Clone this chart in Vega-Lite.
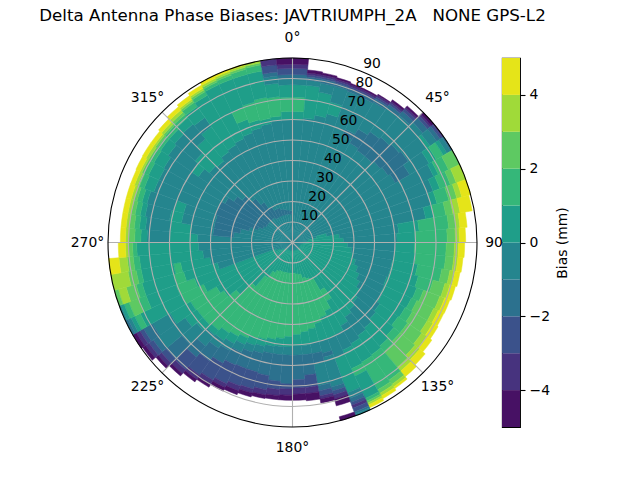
{"$schema":"https://vega.github.io/schema/vega-lite/v6.json","background":"white","padding":{"left":39,"top":7,"right":5,"bottom":5},"bounds":"flush","spacing":25,"config":{"font":"DejaVu Sans","view":{"stroke":null}},
"datasets":{"cells":[
{"a":0,"b":5,"r":0,"s":60,"v":-0.5},{"a":0,"b":5,"r":60,"s":64,"v":0.5},{"a":0,"b":5,"r":64,"s":71,"v":1.5},{"a":0,"b":5,"r":71,"s":77,"v":0.5},{"a":0,"b":5,"r":77,"s":80,"v":-0.5},{"a":0,"b":5,"r":80,"s":82,"v":-1.5},{"a":0,"b":5,"r":82,"s":85,"v":-2.5},{"a":0,"b":5,"r":85,"s":87,"v":-3.5},{"a":0,"b":5,"r":87,"s":90,"v":-4.5},
{"a":5,"b":10,"r":0,"s":61,"v":-0.5},{"a":5,"b":10,"r":61,"s":77,"v":0.5},{"a":5,"b":10,"r":77,"s":79.5,"v":-0.5},{"a":5,"b":10,"r":79.5,"s":81,"v":-1.5},{"a":5,"b":10,"r":81,"s":82,"v":-2.5},{"a":5,"b":10,"r":82,"s":83,"v":-3.5},{"a":5,"b":10,"r":83,"s":84.5,"v":-4.5},
{"a":10,"b":15,"r":0,"s":63,"v":-0.5},{"a":10,"b":15,"r":63,"s":74.5,"v":0.5},{"a":10,"b":15,"r":74.5,"s":79,"v":-0.5},{"a":10,"b":15,"r":79,"s":81,"v":-1.5},{"a":10,"b":15,"r":81,"s":82,"v":-2.5},{"a":10,"b":15,"r":82,"s":83,"v":-3.5},{"a":10,"b":15,"r":83,"s":84,"v":-4.5},
{"a":15,"b":20,"r":0,"s":65,"v":-0.5},{"a":15,"b":20,"r":65,"s":71,"v":0.5},{"a":15,"b":20,"r":71,"s":79,"v":-0.5},{"a":15,"b":20,"r":79,"s":80.5,"v":-1.5},{"a":15,"b":20,"r":80.5,"s":81.5,"v":-2.5},{"a":15,"b":20,"r":81.5,"s":82.5,"v":-3.5},{"a":15,"b":20,"r":82.5,"s":83.3,"v":-4.5},
{"a":20,"b":25,"r":0,"s":78.5,"v":-0.5},{"a":20,"b":25,"r":78.5,"s":80,"v":-1.5},{"a":20,"b":25,"r":80,"s":81,"v":-2.5},{"a":20,"b":25,"r":81,"s":82,"v":-3.5},{"a":20,"b":25,"r":82,"s":82.7,"v":-4.5},
{"a":25,"b":30,"r":0,"s":58,"v":-0.5},{"a":25,"b":30,"r":58,"s":61,"v":-1.5},{"a":25,"b":30,"r":61,"s":78.5,"v":-0.5},{"a":25,"b":30,"r":78.5,"s":80,"v":-1.5},{"a":25,"b":30,"r":80,"s":81,"v":-2.5},{"a":25,"b":30,"r":81,"s":82,"v":-3.5},{"a":25,"b":30,"r":82,"s":82.7,"v":-4.5},
{"a":30,"b":35,"r":0,"s":56,"v":-0.5},{"a":30,"b":35,"r":56,"s":64,"v":-1.5},{"a":30,"b":35,"r":64,"s":79,"v":-0.5},{"a":30,"b":35,"r":79,"s":81,"v":-1.5},{"a":30,"b":35,"r":81,"s":82,"v":-2.5},{"a":30,"b":35,"r":82,"s":83,"v":-3.5},{"a":30,"b":35,"r":83,"s":83.5,"v":-4.5},
{"a":35,"b":40,"r":0,"s":55,"v":-0.5},{"a":35,"b":40,"r":55,"s":66,"v":-1.5},{"a":35,"b":40,"r":66,"s":80,"v":-0.5},{"a":35,"b":40,"r":80,"s":82,"v":-1.5},{"a":35,"b":40,"r":82,"s":83,"v":-2.5},{"a":35,"b":40,"r":83,"s":84,"v":-3.5},{"a":35,"b":40,"r":84,"s":85,"v":-4.5},
{"a":40,"b":45,"r":0,"s":55,"v":-0.5},{"a":40,"b":45,"r":55,"s":67,"v":-1.5},{"a":40,"b":45,"r":67,"s":81,"v":-0.5},{"a":40,"b":45,"r":81,"s":83.5,"v":-1.5},{"a":40,"b":45,"r":83.5,"s":85,"v":-2.5},{"a":40,"b":45,"r":85,"s":86,"v":-3.5},{"a":40,"b":45,"r":86,"s":87,"v":-4.5},
{"a":45,"b":50,"r":0,"s":56,"v":-0.5},{"a":45,"b":50,"r":56,"s":68,"v":-1.5},{"a":45,"b":50,"r":68,"s":83,"v":-0.5},{"a":45,"b":50,"r":83,"s":86,"v":-1.5},{"a":45,"b":50,"r":86,"s":87.5,"v":-2.5},{"a":45,"b":50,"r":87.5,"s":88.5,"v":-3.5},{"a":45,"b":50,"r":88.5,"s":90,"v":-4.5},
{"a":50,"b":55,"r":0,"s":57,"v":-0.5},{"a":50,"b":55,"r":57,"s":69,"v":-1.5},{"a":50,"b":55,"r":69,"s":80,"v":-0.5},{"a":50,"b":55,"r":80,"s":82,"v":0.5},{"a":50,"b":55,"r":82,"s":86,"v":-0.5},{"a":50,"b":55,"r":86,"s":88,"v":-1.5},{"a":50,"b":55,"r":88,"s":89.3,"v":-2.5},{"a":50,"b":55,"r":89.3,"s":90,"v":-3.5},
{"a":55,"b":60,"r":0,"s":58,"v":-0.5},{"a":55,"b":60,"r":58,"s":66,"v":-1.5},{"a":55,"b":60,"r":66,"s":77,"v":-0.5},{"a":55,"b":60,"r":77,"s":81,"v":0.5},{"a":55,"b":60,"r":81,"s":85,"v":1.5},{"a":55,"b":60,"r":85,"s":87,"v":0.5},{"a":55,"b":60,"r":87,"s":89,"v":-0.5},{"a":55,"b":60,"r":89,"s":90,"v":-1.5},
{"a":60,"b":65,"r":0,"s":76,"v":-0.5},{"a":60,"b":65,"r":76,"s":78.5,"v":0.5},{"a":60,"b":65,"r":78.5,"s":84,"v":1.5},{"a":60,"b":65,"r":84,"s":90,"v":2.5},
{"a":65,"b":70,"r":0,"s":73,"v":-0.5},{"a":65,"b":70,"r":73,"s":76.5,"v":0.5},{"a":65,"b":70,"r":76.5,"s":82,"v":1.5},{"a":65,"b":70,"r":82,"s":85,"v":2.5},{"a":65,"b":70,"r":85,"s":90,"v":3.5},
{"a":70,"b":75,"r":0,"s":70,"v":-0.5},{"a":70,"b":75,"r":70,"s":73,"v":0.5},{"a":70,"b":75,"r":73,"s":79,"v":1.5},{"a":70,"b":75,"r":79,"s":83,"v":2.5},{"a":70,"b":75,"r":83,"s":85.5,"v":3.5},{"a":70,"b":75,"r":85.5,"s":90,"v":4.5},
{"a":75,"b":80,"r":0,"s":12,"v":-0.5},{"a":75,"b":80,"r":12,"s":17,"v":0.5},{"a":75,"b":80,"r":17,"s":66,"v":-0.5},{"a":75,"b":80,"r":66,"s":70,"v":0.5},{"a":75,"b":80,"r":70,"s":76,"v":1.5},{"a":75,"b":80,"r":76,"s":79.5,"v":2.5},{"a":75,"b":80,"r":79.5,"s":83,"v":3.5},{"a":75,"b":80,"r":83,"s":89,"v":4.5},
{"a":80,"b":85,"r":0,"s":8,"v":-0.5},{"a":80,"b":85,"r":8,"s":23,"v":0.5},{"a":80,"b":85,"r":23,"s":52,"v":-0.5},{"a":80,"b":85,"r":52,"s":62,"v":0.5},{"a":80,"b":85,"r":62,"s":76.5,"v":1.5},{"a":80,"b":85,"r":76.5,"s":80,"v":2.5},{"a":80,"b":85,"r":80,"s":82,"v":3.5},{"a":80,"b":85,"r":82,"s":85.5,"v":4.5},
{"a":85,"b":90,"r":0,"s":7,"v":-0.5},{"a":85,"b":90,"r":7,"s":25,"v":0.5},{"a":85,"b":90,"r":25,"s":51,"v":-0.5},{"a":85,"b":90,"r":51,"s":60,"v":0.5},{"a":85,"b":90,"r":60,"s":75.5,"v":1.5},{"a":85,"b":90,"r":75.5,"s":79.5,"v":2.5},{"a":85,"b":90,"r":79.5,"s":81.5,"v":3.5},{"a":85,"b":90,"r":81.5,"s":84.5,"v":4.5},
{"a":90,"b":95,"r":0,"s":6,"v":-0.5},{"a":90,"b":95,"r":6,"s":27,"v":0.5},{"a":90,"b":95,"r":27,"s":50.5,"v":-0.5},{"a":90,"b":95,"r":50.5,"s":59.5,"v":0.5},{"a":90,"b":95,"r":59.5,"s":75,"v":1.5},{"a":90,"b":95,"r":75,"s":79,"v":2.5},{"a":90,"b":95,"r":79,"s":81,"v":3.5},{"a":90,"b":95,"r":81,"s":84,"v":4.5},
{"a":95,"b":100,"r":0,"s":5,"v":-0.5},{"a":95,"b":100,"r":5,"s":29,"v":0.5},{"a":95,"b":100,"r":29,"s":50,"v":-0.5},{"a":95,"b":100,"r":50,"s":60.5,"v":0.5},{"a":95,"b":100,"r":60.5,"s":75,"v":1.5},{"a":95,"b":100,"r":75,"s":79,"v":2.5},{"a":95,"b":100,"r":79,"s":81,"v":3.5},{"a":95,"b":100,"r":81,"s":83.5,"v":4.5},
{"a":100,"b":105,"r":0,"s":4.5,"v":-0.5},{"a":100,"b":105,"r":4.5,"s":30,"v":0.5},{"a":100,"b":105,"r":30,"s":49.5,"v":-0.5},{"a":100,"b":105,"r":49.5,"s":62,"v":0.5},{"a":100,"b":105,"r":62,"s":74,"v":1.5},{"a":100,"b":105,"r":74,"s":78,"v":2.5},{"a":100,"b":105,"r":78,"s":80.5,"v":3.5},{"a":100,"b":105,"r":80.5,"s":83,"v":4.5},
{"a":105,"b":110,"r":0,"s":4,"v":-0.5},{"a":105,"b":110,"r":4,"s":32,"v":0.5},{"a":105,"b":110,"r":32,"s":49.5,"v":-0.5},{"a":105,"b":110,"r":49.5,"s":63.5,"v":0.5},{"a":105,"b":110,"r":63.5,"s":71,"v":1.5},{"a":105,"b":110,"r":71,"s":77,"v":2.5},{"a":105,"b":110,"r":77,"s":79.5,"v":3.5},{"a":105,"b":110,"r":79.5,"s":82.3,"v":4.5},
{"a":110,"b":115,"r":0,"s":4,"v":-0.5},{"a":110,"b":115,"r":4,"s":34,"v":0.5},{"a":110,"b":115,"r":34,"s":49,"v":-0.5},{"a":110,"b":115,"r":49,"s":64.5,"v":0.5},{"a":110,"b":115,"r":64.5,"s":68,"v":1.5},{"a":110,"b":115,"r":68,"s":76.5,"v":2.5},{"a":110,"b":115,"r":76.5,"s":79,"v":3.5},{"a":110,"b":115,"r":79,"s":81.7,"v":4.5},
{"a":115,"b":120,"r":0,"s":4,"v":-0.5},{"a":115,"b":120,"r":4,"s":36,"v":0.5},{"a":115,"b":120,"r":36,"s":49.5,"v":-0.5},{"a":115,"b":120,"r":49.5,"s":64,"v":0.5},{"a":115,"b":120,"r":64,"s":67,"v":1.5},{"a":115,"b":120,"r":67,"s":76,"v":2.5},{"a":115,"b":120,"r":76,"s":78.5,"v":3.5},{"a":115,"b":120,"r":78.5,"s":81.5,"v":4.5},
{"a":120,"b":125,"r":0,"s":4,"v":-0.5},{"a":120,"b":125,"r":4,"s":38,"v":0.5},{"a":120,"b":125,"r":38,"s":50.5,"v":-0.5},{"a":120,"b":125,"r":50.5,"s":63.5,"v":0.5},{"a":120,"b":125,"r":63.5,"s":67.5,"v":1.5},{"a":120,"b":125,"r":67.5,"s":76,"v":2.5},{"a":120,"b":125,"r":76,"s":79,"v":3.5},{"a":120,"b":125,"r":79,"s":82,"v":4.5},
{"a":125,"b":130,"r":0,"s":4,"v":-0.5},{"a":125,"b":130,"r":4,"s":40,"v":0.5},{"a":125,"b":130,"r":40,"s":52,"v":-0.5},{"a":125,"b":130,"r":52,"s":63,"v":0.5},{"a":125,"b":130,"r":63,"s":68.5,"v":1.5},{"a":125,"b":130,"r":68.5,"s":77,"v":2.5},{"a":125,"b":130,"r":77,"s":80,"v":3.5},{"a":125,"b":130,"r":80,"s":83,"v":4.5},
{"a":130,"b":135,"r":0,"s":4,"v":-0.5},{"a":130,"b":135,"r":4,"s":41.5,"v":0.5},{"a":130,"b":135,"r":41.5,"s":53,"v":-0.5},{"a":130,"b":135,"r":53,"s":64.5,"v":0.5},{"a":130,"b":135,"r":64.5,"s":68.5,"v":1.5},{"a":130,"b":135,"r":68.5,"s":78,"v":2.5},{"a":130,"b":135,"r":78,"s":81,"v":3.5},{"a":130,"b":135,"r":81,"s":84.5,"v":4.5},
{"a":135,"b":140,"r":0,"s":4,"v":-0.5},{"a":135,"b":140,"r":4,"s":43,"v":0.5},{"a":135,"b":140,"r":43,"s":54.5,"v":-0.5},{"a":135,"b":140,"r":54.5,"s":66,"v":0.5},{"a":135,"b":140,"r":66,"s":69.5,"v":1.5},{"a":135,"b":140,"r":69.5,"s":79.5,"v":2.5},{"a":135,"b":140,"r":79.5,"s":82,"v":3.5},{"a":135,"b":140,"r":82,"s":85.5,"v":4.5},
{"a":140,"b":145,"r":0,"s":4,"v":-0.5},{"a":140,"b":145,"r":4,"s":44.5,"v":0.5},{"a":140,"b":145,"r":44.5,"s":55.5,"v":-0.5},{"a":140,"b":145,"r":55.5,"s":67,"v":0.5},{"a":140,"b":145,"r":67,"s":82,"v":1.5},{"a":140,"b":145,"r":82,"s":84.5,"v":2.5},{"a":140,"b":145,"r":84.5,"s":86,"v":3.5},{"a":140,"b":145,"r":86,"s":87,"v":4.5},
{"a":145,"b":150,"r":0,"s":4,"v":-0.5},{"a":145,"b":150,"r":4,"s":27,"v":0.5},{"a":145,"b":150,"r":27,"s":33,"v":1.5},{"a":145,"b":150,"r":33,"s":47,"v":0.5},{"a":145,"b":150,"r":47,"s":57,"v":-0.5},{"a":145,"b":150,"r":57,"s":67.5,"v":0.5},{"a":145,"b":150,"r":67.5,"s":83,"v":1.5},{"a":145,"b":150,"r":83,"s":85,"v":2.5},{"a":145,"b":150,"r":85,"s":86.5,"v":3.5},{"a":145,"b":150,"r":86.5,"s":88,"v":4.5},
{"a":150,"b":155,"r":0,"s":4,"v":-0.5},{"a":150,"b":155,"r":4,"s":20,"v":0.5},{"a":150,"b":155,"r":20,"s":37,"v":1.5},{"a":150,"b":155,"r":37,"s":49.5,"v":0.5},{"a":150,"b":155,"r":49.5,"s":58,"v":-0.5},{"a":150,"b":155,"r":58,"s":68,"v":0.5},{"a":150,"b":155,"r":68,"s":72,"v":1.5},{"a":150,"b":155,"r":72,"s":84,"v":0.5},{"a":150,"b":155,"r":84,"s":85.5,"v":1.5},{"a":150,"b":155,"r":85.5,"s":86.5,"v":2.5},{"a":150,"b":155,"r":86.5,"s":87.5,"v":3.5},{"a":150,"b":155,"r":87.5,"s":89,"v":4.5},
{"a":155,"b":160,"r":0,"s":4,"v":-0.5},{"a":155,"b":160,"r":4,"s":19,"v":0.5},{"a":155,"b":160,"r":19,"s":39,"v":1.5},{"a":155,"b":160,"r":39,"s":50,"v":0.5},{"a":155,"b":160,"r":50,"s":60,"v":-0.5},{"a":155,"b":160,"r":60,"s":78,"v":0.5},{"a":155,"b":160,"r":78,"s":81,"v":-0.5},{"a":155,"b":160,"r":81,"s":83,"v":-1.5},{"a":155,"b":160,"r":83,"s":84.5,"v":-2.5},{"a":155,"b":160,"r":84.5,"s":86,"v":-3.5},{"a":155,"b":160,"r":86,"s":88,"v":-2.5},{"a":155,"b":160,"r":88,"s":89,"v":-1.5},{"a":155,"b":160,"r":89,"s":90,"v":-0.5},
{"a":160,"b":165,"r":0,"s":4,"v":-0.5},{"a":160,"b":165,"r":4,"s":18,"v":0.5},{"a":160,"b":165,"r":18,"s":41,"v":1.5},{"a":160,"b":165,"r":41,"s":50,"v":0.5},{"a":160,"b":165,"r":50,"s":56,"v":-0.5},{"a":160,"b":165,"r":56,"s":58,"v":-1.5},{"a":160,"b":165,"r":58,"s":73,"v":-0.5},{"a":160,"b":165,"r":73,"s":75,"v":-1.5},{"a":160,"b":165,"r":75,"s":77,"v":-2.5},{"a":160,"b":165,"r":77,"s":79,"v":-3.5},{"a":160,"b":165,"r":79,"s":82.5,"v":-4.5},{"a":160,"b":165,"r":88,"s":90,"v":-4.5},
{"a":165,"b":170,"r":0,"s":4,"v":-0.5},{"a":165,"b":170,"r":4,"s":16,"v":0.5},{"a":165,"b":170,"r":16,"s":43,"v":1.5},{"a":165,"b":170,"r":43,"s":50,"v":0.5},{"a":165,"b":170,"r":50,"s":55,"v":-0.5},{"a":165,"b":170,"r":55,"s":60,"v":-1.5},{"a":165,"b":170,"r":60,"s":71,"v":-0.5},{"a":165,"b":170,"r":71,"s":73.5,"v":-1.5},{"a":165,"b":170,"r":73.5,"s":76,"v":-2.5},{"a":165,"b":170,"r":76,"s":77.5,"v":-3.5},{"a":165,"b":170,"r":77.5,"s":79.5,"v":-4.5},
{"a":170,"b":175,"r":0,"s":4,"v":-0.5},{"a":170,"b":175,"r":4,"s":15.5,"v":0.5},{"a":170,"b":175,"r":15.5,"s":44,"v":1.5},{"a":170,"b":175,"r":44,"s":50.5,"v":0.5},{"a":170,"b":175,"r":50.5,"s":55,"v":-0.5},{"a":170,"b":175,"r":55,"s":65,"v":-1.5},{"a":170,"b":175,"r":65,"s":71,"v":-2.5},{"a":170,"b":175,"r":71,"s":74,"v":-3.5},{"a":170,"b":175,"r":74,"s":77.5,"v":-4.5},
{"a":175,"b":180,"r":0,"s":4,"v":-0.5},{"a":175,"b":180,"r":4,"s":15,"v":0.5},{"a":175,"b":180,"r":15,"s":45,"v":1.5},{"a":175,"b":180,"r":45,"s":50.5,"v":0.5},{"a":175,"b":180,"r":50.5,"s":55,"v":-0.5},{"a":175,"b":180,"r":55,"s":67,"v":-1.5},{"a":175,"b":180,"r":67,"s":71,"v":-2.5},{"a":175,"b":180,"r":71,"s":74,"v":-3.5},{"a":175,"b":180,"r":74,"s":77,"v":-4.5},
{"a":180,"b":185,"r":0,"s":4,"v":-0.5},{"a":180,"b":185,"r":4,"s":15,"v":0.5},{"a":180,"b":185,"r":15,"s":46,"v":1.5},{"a":180,"b":185,"r":46,"s":51,"v":0.5},{"a":180,"b":185,"r":51,"s":55,"v":-0.5},{"a":180,"b":185,"r":55,"s":69,"v":-1.5},{"a":180,"b":185,"r":69,"s":71.5,"v":-2.5},{"a":180,"b":185,"r":71.5,"s":74.5,"v":-3.5},{"a":180,"b":185,"r":74.5,"s":77,"v":-4.5},
{"a":185,"b":190,"r":0,"s":4,"v":-0.5},{"a":185,"b":190,"r":4,"s":15,"v":0.5},{"a":185,"b":190,"r":15,"s":47,"v":1.5},{"a":185,"b":190,"r":47,"s":51,"v":0.5},{"a":185,"b":190,"r":51,"s":55,"v":-0.5},{"a":185,"b":190,"r":55,"s":68,"v":-1.5},{"a":185,"b":190,"r":68,"s":72,"v":-2.5},{"a":185,"b":190,"r":72,"s":75,"v":-3.5},{"a":185,"b":190,"r":75,"s":77,"v":-4.5},
{"a":190,"b":195,"r":0,"s":4,"v":-0.5},{"a":190,"b":195,"r":4,"s":15,"v":0.5},{"a":190,"b":195,"r":15,"s":48,"v":1.5},{"a":190,"b":195,"r":48,"s":51.5,"v":0.5},{"a":190,"b":195,"r":51.5,"s":55,"v":-0.5},{"a":190,"b":195,"r":55,"s":66,"v":-1.5},{"a":190,"b":195,"r":66,"s":73,"v":-2.5},{"a":190,"b":195,"r":73,"s":75.5,"v":-3.5},{"a":190,"b":195,"r":75.5,"s":77.3,"v":-4.5},
{"a":195,"b":200,"r":0,"s":4,"v":-0.5},{"a":195,"b":200,"r":4,"s":15,"v":0.5},{"a":195,"b":200,"r":15,"s":49,"v":1.5},{"a":195,"b":200,"r":49,"s":52.5,"v":0.5},{"a":195,"b":200,"r":52.5,"s":56,"v":-0.5},{"a":195,"b":200,"r":56,"s":65.5,"v":-1.5},{"a":195,"b":200,"r":65.5,"s":74,"v":-2.5},{"a":195,"b":200,"r":74,"s":76,"v":-3.5},{"a":195,"b":200,"r":76,"s":78,"v":-4.5},
{"a":200,"b":205,"r":0,"s":4,"v":-0.5},{"a":200,"b":205,"r":4,"s":15,"v":0.5},{"a":200,"b":205,"r":15,"s":50,"v":1.5},{"a":200,"b":205,"r":50,"s":53.5,"v":0.5},{"a":200,"b":205,"r":53.5,"s":57,"v":-0.5},{"a":200,"b":205,"r":57,"s":65.5,"v":-1.5},{"a":200,"b":205,"r":65.5,"s":74.5,"v":-2.5},{"a":200,"b":205,"r":74.5,"s":77,"v":-3.5},{"a":200,"b":205,"r":77,"s":79,"v":-4.5},
{"a":205,"b":210,"r":0,"s":4,"v":-0.5},{"a":205,"b":210,"r":4,"s":15.5,"v":0.5},{"a":205,"b":210,"r":15.5,"s":51.5,"v":1.5},{"a":205,"b":210,"r":51.5,"s":55,"v":0.5},{"a":205,"b":210,"r":55,"s":59,"v":-0.5},{"a":205,"b":210,"r":59,"s":66,"v":-1.5},{"a":205,"b":210,"r":66,"s":76,"v":-2.5},{"a":205,"b":210,"r":76,"s":78,"v":-3.5},{"a":205,"b":210,"r":78,"s":80,"v":-4.5},
{"a":210,"b":215,"r":0,"s":4,"v":-0.5},{"a":210,"b":215,"r":4,"s":17,"v":0.5},{"a":210,"b":215,"r":17,"s":53,"v":1.5},{"a":210,"b":215,"r":53,"s":57,"v":0.5},{"a":210,"b":215,"r":57,"s":61,"v":-0.5},{"a":210,"b":215,"r":61,"s":68,"v":-1.5},{"a":210,"b":215,"r":68,"s":77.5,"v":-2.5},{"a":210,"b":215,"r":77.5,"s":80,"v":-3.5},{"a":210,"b":215,"r":80,"s":81.5,"v":-4.5},
{"a":215,"b":220,"r":0,"s":4,"v":-0.5},{"a":215,"b":220,"r":4,"s":21,"v":0.5},{"a":215,"b":220,"r":21,"s":54,"v":1.5},{"a":215,"b":220,"r":54,"s":58.5,"v":0.5},{"a":215,"b":220,"r":58.5,"s":63,"v":-0.5},{"a":215,"b":220,"r":63,"s":70.5,"v":-1.5},{"a":215,"b":220,"r":70.5,"s":79,"v":-2.5},{"a":215,"b":220,"r":79,"s":81.5,"v":-3.5},{"a":215,"b":220,"r":81.5,"s":83,"v":-4.5},
{"a":220,"b":225,"r":0,"s":4,"v":-0.5},{"a":220,"b":225,"r":4,"s":28,"v":0.5},{"a":220,"b":225,"r":28,"s":56,"v":1.5},{"a":220,"b":225,"r":56,"s":59,"v":0.5},{"a":220,"b":225,"r":59,"s":66,"v":-0.5},{"a":220,"b":225,"r":66,"s":73,"v":-1.5},{"a":220,"b":225,"r":73,"s":81,"v":-2.5},{"a":220,"b":225,"r":81,"s":83.5,"v":-3.5},{"a":220,"b":225,"r":83.5,"s":85,"v":-4.5},
{"a":225,"b":230,"r":0,"s":4,"v":-0.5},{"a":225,"b":230,"r":4,"s":36,"v":0.5},{"a":225,"b":230,"r":36,"s":57,"v":1.5},{"a":225,"b":230,"r":57,"s":61,"v":0.5},{"a":225,"b":230,"r":61,"s":70.5,"v":-0.5},{"a":225,"b":230,"r":70.5,"s":80.5,"v":-1.5},{"a":225,"b":230,"r":80.5,"s":83.5,"v":-2.5},{"a":225,"b":230,"r":83.5,"s":85.5,"v":-3.5},{"a":225,"b":230,"r":85.5,"s":87,"v":-4.5},
{"a":230,"b":235,"r":0,"s":5,"v":-0.5},{"a":230,"b":235,"r":5,"s":41,"v":0.5},{"a":230,"b":235,"r":41,"s":57,"v":1.5},{"a":230,"b":235,"r":57,"s":64,"v":0.5},{"a":230,"b":235,"r":64,"s":80,"v":-0.5},{"a":230,"b":235,"r":80,"s":83,"v":-1.5},{"a":230,"b":235,"r":83,"s":85.5,"v":-2.5},{"a":230,"b":235,"r":85.5,"s":87.5,"v":-3.5},{"a":230,"b":235,"r":87.5,"s":89.3,"v":-4.5},
{"a":235,"b":240,"r":0,"s":6,"v":-0.5},{"a":235,"b":240,"r":6,"s":43,"v":0.5},{"a":235,"b":240,"r":43,"s":57.5,"v":1.5},{"a":235,"b":240,"r":57.5,"s":69,"v":0.5},{"a":235,"b":240,"r":69,"s":79,"v":-0.5},{"a":235,"b":240,"r":79,"s":84,"v":-1.5},{"a":235,"b":240,"r":84,"s":86,"v":-2.5},{"a":235,"b":240,"r":86,"s":88,"v":-3.5},{"a":235,"b":240,"r":88,"s":90,"v":-4.5},
{"a":240,"b":245,"r":0,"s":7,"v":-0.5},{"a":240,"b":245,"r":7,"s":48,"v":0.5},{"a":240,"b":245,"r":48,"s":60,"v":1.5},{"a":240,"b":245,"r":60,"s":82,"v":0.5},{"a":240,"b":245,"r":82,"s":85,"v":1.5},{"a":240,"b":245,"r":85,"s":87,"v":0.5},{"a":240,"b":245,"r":87,"s":88.5,"v":-0.5},{"a":240,"b":245,"r":88.5,"s":90,"v":-1.5},
{"a":245,"b":250,"r":0,"s":9,"v":-0.5},{"a":245,"b":250,"r":9,"s":51,"v":0.5},{"a":245,"b":250,"r":51,"s":60.5,"v":1.5},{"a":245,"b":250,"r":60.5,"s":76,"v":0.5},{"a":245,"b":250,"r":76,"s":80,"v":1.5},{"a":245,"b":250,"r":80,"s":85,"v":2.5},{"a":245,"b":250,"r":85,"s":87.5,"v":1.5},{"a":245,"b":250,"r":87.5,"s":89,"v":0.5},{"a":245,"b":250,"r":89,"s":90,"v":-0.5},
{"a":250,"b":255,"r":0,"s":38,"v":-0.5},{"a":250,"b":255,"r":38,"s":55,"v":0.5},{"a":250,"b":255,"r":55,"s":60,"v":1.5},{"a":250,"b":255,"r":60,"s":76,"v":0.5},{"a":250,"b":255,"r":76,"s":79,"v":1.5},{"a":250,"b":255,"r":79,"s":84,"v":2.5},{"a":250,"b":255,"r":84,"s":88,"v":3.5},{"a":250,"b":255,"r":88,"s":90,"v":2.5},
{"a":255,"b":260,"r":0,"s":41,"v":-0.5},{"a":255,"b":260,"r":41,"s":55.5,"v":0.5},{"a":255,"b":260,"r":55.5,"s":59,"v":1.5},{"a":255,"b":260,"r":59,"s":75,"v":0.5},{"a":255,"b":260,"r":75,"s":77.5,"v":1.5},{"a":255,"b":260,"r":77.5,"s":81.5,"v":2.5},{"a":255,"b":260,"r":81.5,"s":90,"v":3.5},
{"a":260,"b":265,"r":0,"s":44,"v":-0.5},{"a":260,"b":265,"r":44,"s":75,"v":0.5},{"a":260,"b":265,"r":75,"s":78,"v":1.5},{"a":260,"b":265,"r":78,"s":81,"v":2.5},{"a":260,"b":265,"r":81,"s":85,"v":3.5},{"a":260,"b":265,"r":85,"s":90,"v":4.5},
{"a":265,"b":270,"r":0,"s":46,"v":-0.5},{"a":265,"b":270,"r":46,"s":76,"v":0.5},{"a":265,"b":270,"r":76,"s":78,"v":1.5},{"a":265,"b":270,"r":78,"s":80,"v":2.5},{"a":265,"b":270,"r":80,"s":81.5,"v":3.5},{"a":265,"b":270,"r":81.5,"s":85,"v":4.5},
{"a":270,"b":275,"r":0,"s":46.5,"v":-0.5},{"a":270,"b":275,"r":46.5,"s":60,"v":0.5},{"a":270,"b":275,"r":60,"s":71,"v":-0.5},{"a":270,"b":275,"r":71,"s":74,"v":0.5},{"a":270,"b":275,"r":74,"s":77,"v":1.5},{"a":270,"b":275,"r":77,"s":80,"v":2.5},{"a":270,"b":275,"r":80,"s":81.5,"v":3.5},{"a":270,"b":275,"r":81.5,"s":84,"v":4.5},
{"a":275,"b":280,"r":0,"s":29,"v":-0.5},{"a":275,"b":280,"r":29,"s":39,"v":-1.5},{"a":275,"b":280,"r":39,"s":50,"v":-0.5},{"a":275,"b":280,"r":50,"s":60,"v":0.5},{"a":275,"b":280,"r":60,"s":72,"v":-0.5},{"a":275,"b":280,"r":72,"s":75,"v":0.5},{"a":275,"b":280,"r":75,"s":77.5,"v":1.5},{"a":275,"b":280,"r":77.5,"s":80,"v":2.5},{"a":275,"b":280,"r":80,"s":81.5,"v":3.5},{"a":275,"b":280,"r":81.5,"s":84,"v":4.5},
{"a":280,"b":285,"r":0,"s":26,"v":-0.5},{"a":280,"b":285,"r":26,"s":39,"v":-1.5},{"a":280,"b":285,"r":39,"s":55,"v":-0.5},{"a":280,"b":285,"r":55,"s":61,"v":0.5},{"a":280,"b":285,"r":61,"s":73,"v":-0.5},{"a":280,"b":285,"r":73,"s":75.5,"v":0.5},{"a":280,"b":285,"r":75.5,"s":78,"v":1.5},{"a":280,"b":285,"r":78,"s":80,"v":2.5},{"a":280,"b":285,"r":80,"s":81.5,"v":3.5},{"a":280,"b":285,"r":81.5,"s":84,"v":4.5},
{"a":285,"b":290,"r":0,"s":22,"v":-0.5},{"a":285,"b":290,"r":22,"s":39,"v":-1.5},{"a":285,"b":290,"r":39,"s":55,"v":-0.5},{"a":285,"b":290,"r":55,"s":60,"v":0.5},{"a":285,"b":290,"r":60,"s":73.5,"v":-0.5},{"a":285,"b":290,"r":73.5,"s":76,"v":0.5},{"a":285,"b":290,"r":76,"s":78.5,"v":1.5},{"a":285,"b":290,"r":78.5,"s":80,"v":2.5},{"a":285,"b":290,"r":80,"s":81.5,"v":3.5},{"a":285,"b":290,"r":81.5,"s":84,"v":4.5},
{"a":290,"b":295,"r":0,"s":18,"v":-0.5},{"a":290,"b":295,"r":18,"s":40,"v":-1.5},{"a":290,"b":295,"r":40,"s":72,"v":-0.5},{"a":290,"b":295,"r":72,"s":77,"v":0.5},{"a":290,"b":295,"r":77,"s":79.5,"v":1.5},{"a":290,"b":295,"r":79.5,"s":80.5,"v":2.5},{"a":290,"b":295,"r":80.5,"s":82,"v":3.5},{"a":290,"b":295,"r":82,"s":84,"v":4.5},
{"a":295,"b":300,"r":0,"s":16,"v":-0.5},{"a":295,"b":300,"r":16,"s":40,"v":-1.5},{"a":295,"b":300,"r":40,"s":72,"v":-0.5},{"a":295,"b":300,"r":72,"s":77.5,"v":0.5},{"a":295,"b":300,"r":77.5,"s":80,"v":1.5},{"a":295,"b":300,"r":80,"s":81,"v":2.5},{"a":295,"b":300,"r":81,"s":82,"v":3.5},{"a":295,"b":300,"r":82,"s":84.3,"v":4.5},
{"a":300,"b":305,"r":0,"s":15,"v":-0.5},{"a":300,"b":305,"r":15,"s":38,"v":-1.5},{"a":300,"b":305,"r":38,"s":72.5,"v":-0.5},{"a":300,"b":305,"r":72.5,"s":78,"v":0.5},{"a":300,"b":305,"r":78,"s":80,"v":1.5},{"a":300,"b":305,"r":80,"s":81,"v":2.5},{"a":300,"b":305,"r":81,"s":82.5,"v":3.5},{"a":300,"b":305,"r":82.5,"s":84.5,"v":4.5},
{"a":305,"b":310,"r":0,"s":15,"v":-0.5},{"a":305,"b":310,"r":15,"s":35,"v":-1.5},{"a":305,"b":310,"r":35,"s":56,"v":-0.5},{"a":305,"b":310,"r":56,"s":60,"v":0.5},{"a":305,"b":310,"r":60,"s":74,"v":-0.5},{"a":305,"b":310,"r":74,"s":78.5,"v":0.5},{"a":305,"b":310,"r":78.5,"s":80.5,"v":1.5},{"a":305,"b":310,"r":80.5,"s":81.5,"v":2.5},{"a":305,"b":310,"r":81.5,"s":82.5,"v":3.5},{"a":305,"b":310,"r":82.5,"s":84.5,"v":4.5},
{"a":310,"b":315,"r":0,"s":15,"v":-0.5},{"a":310,"b":315,"r":15,"s":32,"v":-1.5},{"a":310,"b":315,"r":32,"s":53,"v":-0.5},{"a":310,"b":315,"r":53,"s":62,"v":0.5},{"a":310,"b":315,"r":62,"s":75,"v":-0.5},{"a":310,"b":315,"r":75,"s":78.5,"v":0.5},{"a":310,"b":315,"r":78.5,"s":81,"v":1.5},{"a":310,"b":315,"r":81,"s":82,"v":2.5},{"a":310,"b":315,"r":82,"s":83.3,"v":3.5},{"a":310,"b":315,"r":83.3,"s":85.3,"v":4.5},
{"a":315,"b":320,"r":0,"s":15,"v":-0.5},{"a":315,"b":320,"r":15,"s":28,"v":-1.5},{"a":315,"b":320,"r":28,"s":52,"v":-0.5},{"a":315,"b":320,"r":52,"s":66,"v":0.5},{"a":315,"b":320,"r":66,"s":75.5,"v":-0.5},{"a":315,"b":320,"r":75.5,"s":79.5,"v":0.5},{"a":315,"b":320,"r":79.5,"s":81.5,"v":1.5},{"a":315,"b":320,"r":81.5,"s":83,"v":2.5},{"a":315,"b":320,"r":83,"s":84.5,"v":3.5},{"a":315,"b":320,"r":84.5,"s":86.5,"v":4.5},
{"a":320,"b":325,"r":0,"s":15,"v":-0.5},{"a":320,"b":325,"r":15,"s":24,"v":-1.5},{"a":320,"b":325,"r":24,"s":54,"v":-0.5},{"a":320,"b":325,"r":54,"s":69,"v":0.5},{"a":320,"b":325,"r":69,"s":74.5,"v":-0.5},{"a":320,"b":325,"r":74.5,"s":81,"v":0.5},{"a":320,"b":325,"r":81,"s":83.5,"v":1.5},{"a":320,"b":325,"r":83.5,"s":84.5,"v":2.5},{"a":320,"b":325,"r":84.5,"s":85.5,"v":3.5},{"a":320,"b":325,"r":85.5,"s":87.5,"v":4.5},
{"a":325,"b":330,"r":0,"s":14,"v":-0.5},{"a":325,"b":330,"r":14,"s":20,"v":-1.5},{"a":325,"b":330,"r":20,"s":55,"v":-0.5},{"a":325,"b":330,"r":55,"s":83,"v":0.5},{"a":325,"b":330,"r":83,"s":85,"v":1.5},{"a":325,"b":330,"r":85,"s":86,"v":2.5},{"a":325,"b":330,"r":86,"s":87,"v":3.5},{"a":325,"b":330,"r":87,"s":88.7,"v":4.5},
{"a":330,"b":335,"r":0,"s":14,"v":-0.5},{"a":330,"b":335,"r":14,"s":18,"v":-1.5},{"a":330,"b":335,"r":18,"s":56,"v":-0.5},{"a":330,"b":335,"r":56,"s":85,"v":0.5},{"a":330,"b":335,"r":85,"s":86.5,"v":1.5},{"a":330,"b":335,"r":86.5,"s":87.5,"v":2.5},{"a":330,"b":335,"r":87.5,"s":88.5,"v":3.5},{"a":330,"b":335,"r":88.5,"s":90,"v":4.5},
{"a":335,"b":340,"r":0,"s":14,"v":-0.5},{"a":335,"b":340,"r":14,"s":18,"v":-1.5},{"a":335,"b":340,"r":18,"s":57,"v":-0.5},{"a":335,"b":340,"r":57,"s":64,"v":0.5},{"a":335,"b":340,"r":64,"s":70,"v":1.5},{"a":335,"b":340,"r":70,"s":85,"v":0.5},{"a":335,"b":340,"r":85,"s":87,"v":1.5},{"a":335,"b":340,"r":87,"s":88,"v":2.5},{"a":335,"b":340,"r":88,"s":89,"v":3.5},{"a":335,"b":340,"r":89,"s":90,"v":4.5},
{"a":340,"b":345,"r":0,"s":14,"v":-0.5},{"a":340,"b":345,"r":14,"s":17,"v":-1.5},{"a":340,"b":345,"r":17,"s":58,"v":-0.5},{"a":340,"b":345,"r":58,"s":62,"v":0.5},{"a":340,"b":345,"r":62,"s":71,"v":1.5},{"a":340,"b":345,"r":71,"s":85,"v":0.5},{"a":340,"b":345,"r":85,"s":87.5,"v":1.5},{"a":340,"b":345,"r":87.5,"s":88.5,"v":2.5},{"a":340,"b":345,"r":88.5,"s":89.5,"v":3.5},{"a":340,"b":345,"r":89.5,"s":90,"v":4.5},
{"a":345,"b":350,"r":0,"s":14,"v":-0.5},{"a":345,"b":350,"r":14,"s":16.5,"v":-1.5},{"a":345,"b":350,"r":16.5,"s":59,"v":-0.5},{"a":345,"b":350,"r":59,"s":61.5,"v":0.5},{"a":345,"b":350,"r":61.5,"s":72,"v":1.5},{"a":345,"b":350,"r":72,"s":85,"v":0.5},{"a":345,"b":350,"r":85,"s":88,"v":1.5},{"a":345,"b":350,"r":88,"s":89,"v":2.5},{"a":345,"b":350,"r":89,"s":90,"v":3.5},
{"a":350,"b":355,"r":0,"s":14,"v":-0.5},{"a":350,"b":355,"r":14,"s":16,"v":-1.5},{"a":350,"b":355,"r":16,"s":60,"v":-0.5},{"a":350,"b":355,"r":60,"s":62,"v":0.5},{"a":350,"b":355,"r":62,"s":71.5,"v":1.5},{"a":350,"b":355,"r":71.5,"s":78,"v":0.5},{"a":350,"b":355,"r":78,"s":81.5,"v":-0.5},{"a":350,"b":355,"r":81.5,"s":83.5,"v":-1.5},{"a":350,"b":355,"r":83.5,"s":87,"v":-2.5},{"a":350,"b":355,"r":87,"s":90,"v":-3.5},
{"a":355,"b":360,"r":0,"s":14,"v":-0.5},{"a":355,"b":360,"r":14,"s":15.5,"v":-1.5},{"a":355,"b":360,"r":15.5,"s":60,"v":-0.5},{"a":355,"b":360,"r":60,"s":64,"v":0.5},{"a":355,"b":360,"r":64,"s":71,"v":1.5},{"a":355,"b":360,"r":71,"s":77,"v":0.5},{"a":355,"b":360,"r":77,"s":80,"v":-0.5},{"a":355,"b":360,"r":80,"s":82,"v":-1.5},{"a":355,"b":360,"r":82,"s":85,"v":-2.5},{"a":355,"b":360,"r":85,"s":87,"v":-3.5},{"a":355,"b":360,"r":87,"s":90,"v":-4.5}
],
"rings":[{"z":10},{"z":20},{"z":30},{"z":40},{"z":50},{"z":60},{"z":70},{"z":80},{"z":90}],
"spokes":[{"t":0,"l":"0°"},{"t":45,"l":"45°"},{"t":90,"l":"90°"},{"t":135,"l":"135°"},{"t":180,"l":"180°"},{"t":225,"l":"225°"},{"t":270,"l":"270°"},{"t":315,"l":"315°"}],
"bar":[{"lo":-5,"hi":-4,"v":-4.5},{"lo":-4,"hi":-3,"v":-3.5},{"lo":-3,"hi":-2,"v":-2.5},{"lo":-2,"hi":-1,"v":-1.5},{"lo":-1,"hi":0,"v":-0.5},{"lo":0,"hi":1,"v":0.5},{"lo":1,"hi":2,"v":1.5},{"lo":2,"hi":3,"v":2.5},{"lo":3,"hi":4,"v":3.5},{"lo":4,"hi":5,"v":4.5}]},
"hconcat":[
{"width":369,"height":369,
"title":{"text":"Delta Antenna Phase Biases: JAVTRIUMPH_2A\u00a0\u00a0\u00a0NONE GPS-L2","font":"DejaVu Sans","fontSize":16.67,"fontWeight":"normal","color":"black","anchor":"middle","offset":-11,"baseline":"bottom"},
"layer":[
{"data":{"name":"cells"},"mark":{"type":"arc","strokeWidth":0.5},
"encoding":{"theta":{"field":"a","type":"quantitative","stack":null,"scale":{"domain":[0,360],"range":[0,6.283185307]},"axis":null},"theta2":{"field":"b"},"radius":{"field":"r","type":"quantitative","stack":null,"scale":{"domain":[0,90],"range":[0,184.5]},"axis":null},"radius2":{"field":"s"},
"fill":{"field":"v","type":"quantitative","legend":null,"scale":{"type":"threshold","domain":[-4,-3,-2,-1,0,1,2,3,4],"range":["#471164","#47337e","#3b528b","#2c718e","#25858e","#1f9e89","#35b779","#5ec962","#a0da39","#e5e419"]}},
"stroke":{"field":"v","type":"quantitative","legend":null,"scale":{"type":"threshold","domain":[-4,-3,-2,-1,0,1,2,3,4],"range":["#471164","#47337e","#3b528b","#2c718e","#25858e","#1f9e89","#35b779","#5ec962","#a0da39","#e5e419"]}}}},
{"data":{"name":"rings"},"transform":[{"filter":"datum.z<90"}],"mark":{"type":"arc","fill":null,"stroke":"#b0b0b0","strokeWidth":1.1},
"encoding":{"theta":{"datum":0,"type":"quantitative","stack":null},"theta2":{"datum":360},"radius":{"field":"z","type":"quantitative","stack":null},"radius2":{"field":"z"}}},
{"data":{"name":"spokes"},"mark":{"type":"arc","fill":null,"stroke":"#b0b0b0","strokeWidth":1.1},
"encoding":{"theta":{"field":"t","type":"quantitative","stack":null},"theta2":{"field":"t"},"radius":{"datum":0,"type":"quantitative","stack":null},"radius2":{"datum":90}}},
{"data":{"values":[{"z":90}]},"mark":{"type":"arc","fill":null,"stroke":"black","strokeWidth":1.1},
"encoding":{"theta":{"datum":0,"type":"quantitative","stack":null},"theta2":{"datum":360},"radius":{"field":"z","type":"quantitative","stack":null},"radius2":{"field":"z"}}},
{"data":{"name":"rings"},"mark":{"type":"text","font":"DejaVu Sans","fontSize":13.9,"color":"black","align":"center","baseline":"middle","dx":9,"dy":-8},
"encoding":{"theta":{"datum":22.5,"type":"quantitative","stack":null},"radius":{"field":"z","type":"quantitative","stack":null},"text":{"field":"z","type":"nominal"}}},
{"data":{"name":"spokes"},"mark":{"type":"text","font":"DejaVu Sans","fontSize":13.9,"color":"black","align":"center","baseline":"middle"},
"encoding":{"theta":{"field":"t","type":"quantitative","stack":null},"radius":{"datum":100,"type":"quantitative","stack":null},"text":{"field":"l","type":"nominal"}}}
]},
{"width":18,"height":369,"view":{"stroke":"black","strokeWidth":1.1},"data":{"name":"bar"},"mark":{"type":"rect"},
"encoding":{"y":{"field":"lo","type":"quantitative","scale":{"domain":[-5,5],"nice":false},"axis":{"orient":"right","values":[-4,-2,0,2,4],"grid":false,"domain":false,"tickColor":"black","tickSize":5,"tickWidth":1.1,"labelFont":"DejaVu Sans","labelFontSize":13.9,"labelColor":"black","labelPadding":4,"title":"Bias (mm)","titleAngle":270,"titleFont":"DejaVu Sans","titleFontSize":13.9,"titleFontWeight":"normal","titleColor":"black","titlePadding":20}},"y2":{"field":"hi"},
"fill":{"field":"v","type":"quantitative","legend":null,"scale":{"type":"threshold","domain":[-4,-3,-2,-1,0,1,2,3,4],"range":["#471164","#47337e","#3b528b","#2c718e","#25858e","#1f9e89","#35b779","#5ec962","#a0da39","#e5e419"]}}}}
]}
